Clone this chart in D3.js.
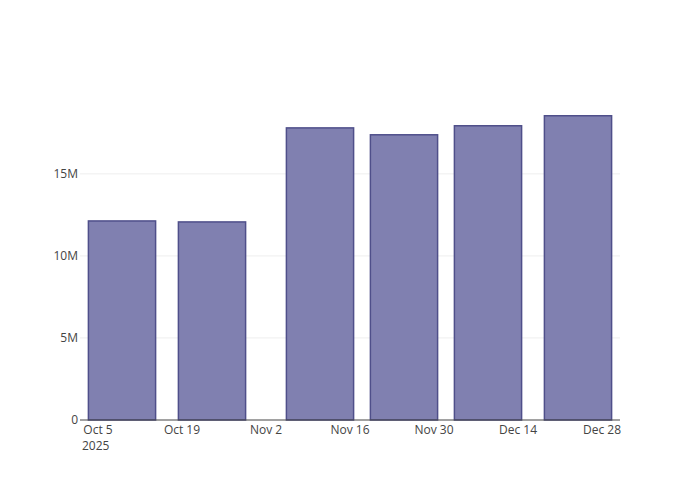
<!DOCTYPE html>
<html><head><meta charset="utf-8">
<script src="https://cdn.jsdelivr.net/npm/d3@7"></script>
<style>body{margin:0;background:#fff}text{font-family:"Open Sans",sans-serif;font-size:12px;fill:#444}</style>
</head><body><div id="chart"></div>
<script>
var dates = ["2025-10-09","2025-10-24","2025-11-11","2025-11-25","2025-12-09","2025-12-24"];
var values = [12.13e6, 12.07e6, 17.8e6, 17.38e6, 17.93e6, 18.54e6];
var tickDates = ["2025-10-05","2025-10-19","2025-11-02","2025-11-16","2025-11-30","2025-12-14","2025-12-28"];
var yTicks = [0, 5e6, 10e6, 15e6];

var margin = {top: 100, right: 80, bottom: 80, left: 80},
    width = 700 - margin.left - margin.right,
    height = 500 - margin.top - margin.bottom;
var parse = d3.utcParse("%Y-%m-%d");

var x = d3.scaleUtc().domain([parse("2025-10-02"), parse("2025-12-31")]).range([0, width]);
var y = d3.scaleLinear().domain([0, 19.5e6]).range([height, 0]);
var barW = x(parse("2025-10-12T06")) - x(parse("2025-10-01"));
barW = (x(parse("2025-10-15")) - x(parse("2025-10-01"))) * 0.8;

var svg = d3.select("#chart").append("svg").attr("width", 700).attr("height", 500)
  .append("g").attr("transform", "translate(" + margin.left + "," + margin.top + ")");

svg.selectAll(".grid").data(yTicks.slice(1)).enter().append("line")
  .attr("x1", 0).attr("x2", width).attr("y1", y).attr("y2", y)
  .attr("stroke", "#eee").attr("stroke-width", 1);

svg.selectAll(".bar").data(values).enter().append("rect")
  .attr("x", function(d, i) { return x(parse(dates[i])) - barW / 2; })
  .attr("y", function(d) { return y(d); })
  .attr("width", barW)
  .attr("height", function(d) { return height - y(d); })
  .attr("fill", "#8080b0").attr("stroke", "#4f4f8a").attr("stroke-width", 1.5);

svg.append("line").attr("x1", 0).attr("x2", width).attr("y1", height).attr("y2", height)
  .attr("stroke", "#444").attr("stroke-width", 1);

var fmtX = d3.utcFormat("%b %-d");
var xt = svg.selectAll(".xt").data(tickDates).enter().append("text")
  .attr("x", function(d) { return x(parse(d)); }).attr("y", height + 14)
  .attr("text-anchor", "middle");
xt.append("tspan").text(function(d) { return fmtX(parse(d)); });
xt.filter(function(d, i) { return i === 0; }).append("tspan")
  .attr("x", function(d) { return x(parse(d)) - 16; }).attr("dy", 16)
  .attr("text-anchor", "start").text("2025");

svg.selectAll(".yt").data(yTicks).enter().append("text")
  .attr("x", -2).attr("y", function(d) { return y(d); }).attr("dy", "0.35em")
  .attr("text-anchor", "end")
  .text(function(d) { return d === 0 ? "0" : (d / 1e6) + "M"; });
</script></body></html>
